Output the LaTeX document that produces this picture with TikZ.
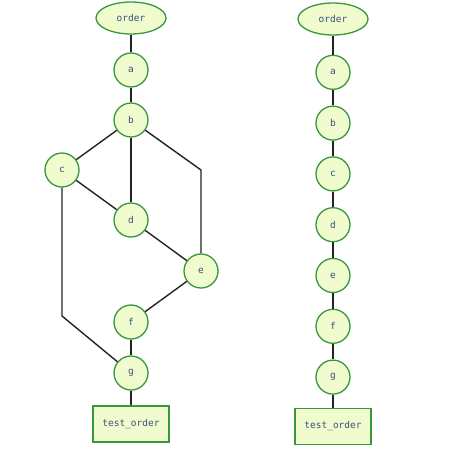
\documentclass[tikz,border=0pt]{standalone}
\usepackage{fontspec}
\setmonofont{DejaVu Sans Mono}
\usetikzlibrary{shapes.geometric,positioning}
\definecolor{nodefill}{RGB}{240,252,206}
\definecolor{nodeline}{RGB}{56,150,62}
\definecolor{nodetext}{RGB}{62,78,125}
\definecolor{edgeline}{RGB}{35,35,35}

\begin{document}
\begin{tikzpicture}[
  x=1pt,y=-1pt,
  node distance=15.5pt,
  every node/.style={font=\ttfamily\fontsize{9.5}{11}\selectfont,text=nodetext},
  vertex/.style={draw=nodeline,fill=nodefill,line width=1.3pt,circle,minimum size=34pt,inner sep=0pt},
  root/.style={draw=nodeline,fill=nodefill,line width=1.3pt,ellipse,minimum width=70pt,minimum height=32pt,inner sep=0pt},
  sink/.style={draw=nodeline,fill=nodefill,line width=1.3pt,rectangle,minimum width=76pt,minimum height=36pt,inner sep=0pt},
  link/.style={draw=edgeline,line width=1.4pt}
]
  \useasboundingbox (0,0) rectangle (458,458);

  % dependency graph
  \node[root] (order) at (131,18) {order};
  \node[vertex] (a) at (131,70) {a};
  \node[vertex] (b) at (131,120) {b};
  \node[vertex] (c) at (62,170) {c};
  \node[vertex] (d) at (131,220) {d};
  \node[vertex] (e) at (201,271) {e};
  \node[vertex] (f) at (131,322) {f};
  \node[vertex] (g) at (131,373) {g};
  \node[sink] (test) at (131,424) {test\_order};
  \coordinate (be) at (201,170);
  \coordinate (cg) at (62,316);

  % linear order
  \node[root] (order2) at (333,19) {order};
  \node[vertex,below=19pt of order2] (a2) {a};
  \node[vertex,below=of a2] (b2) {b};
  \node[vertex,below=of b2] (c2) {c};
  \node[vertex,below=of c2] (d2) {d};
  \node[vertex,below=of d2] (e2) {e};
  \node[vertex,below=of e2] (f2) {f};
  \node[vertex,below=of f2] (g2) {g};
  \node[sink,below=13pt of g2] (test2) {test\_order};

  \draw[link] (order) -- (a);
  \draw[link] (a) -- (b);
  \draw[link] (b) -- (c);
  \draw[link] (b) -- (d);
  \draw[link] (b) -- (be) -- (e);
  \draw[link] (c) -- (d);
  \draw[link] (d) -- (e);
  \draw[link] (e) -- (f);
  \draw[link] (f) -- (g);
  \draw[link] (c) -- (cg) -- (g);
  \draw[link] (g) -- (test);

  \draw[link] (order2) -- (a2) -- (b2) -- (c2) -- (d2) -- (e2) -- (f2) -- (g2) -- (test2);
\end{tikzpicture}
\end{document}
